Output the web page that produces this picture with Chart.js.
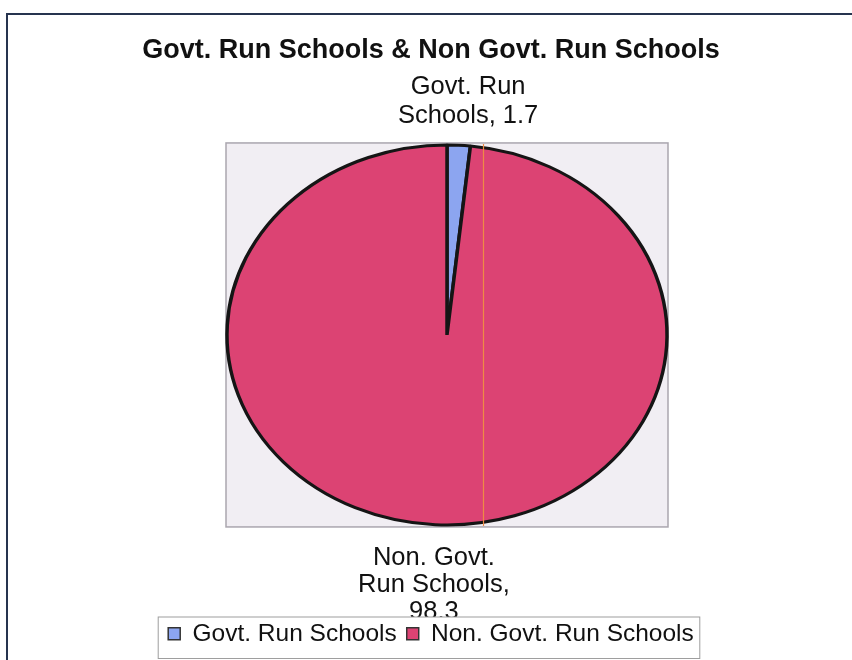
<!DOCTYPE html>
<html>
<head>
<meta charset="utf-8">
<script src="https://cdn.jsdelivr.net/npm/chart.js@4.4.1/dist/chart.umd.min.js"></script>
<style>
  html, body { margin: 0; padding: 0; background: #ffffff; }
  #wrap { width: 852px; height: 660px; position: relative; }
</style>
</head>
<body>
<div id="wrap"><canvas id="c"></canvas></div>
<script>
// ---- data ----
const chartTitle = 'Govt. Run Schools & Non Govt. Run Schools';
const categories = ['Govt. Run Schools', 'Non. Govt. Run Schools'];
const shares = [1.7, 98.3];
const sliceColors = ['#8CA5F0', '#DC4373'];

const FONT = '"Liberation Sans", Arial, sans-serif';
const STRETCH_X = 1.158; // the original pie is drawn slightly wider than tall

function wrapText(ctx, text, maxW) {
  const words = text.split(' ');
  const lines = [];
  let cur = '';
  words.forEach(w => {
    const t = cur ? cur + ' ' + w : w;
    if (cur && ctx.measureText(t).width > maxW) { lines.push(cur); cur = w; }
    else cur = t;
  });
  if (cur) lines.push(cur);
  return lines;
}

const framePlugin = {
  id: 'framePlugin',
  beforeDraw(chart) {
    const ctx = chart.ctx;
    ctx.save();
    ctx.fillStyle = '#ffffff';
    ctx.fillRect(0, 0, chart.width, chart.height);
    ctx.strokeStyle = '#26344f';
    ctx.lineWidth = 2;
    ctx.strokeRect(7, 14, chart.width + 20, chart.height + 20);
    ctx.restore();
  },
  beforeDatasetsDraw(chart) {
    const arc = chart.getDatasetMeta(0).data[0];
    if (!arc) return;
    const ctx = chart.ctx;
    ctx.save();
    ctx.fillStyle = '#F1EEF3';
    ctx.strokeStyle = '#AAA6AE';
    ctx.lineWidth = 1.5;
    ctx.fillRect(arc.x - 221, arc.y - 192, 442, 384);
    ctx.strokeRect(arc.x - 221, arc.y - 192, 442, 384);
    ctx.restore();
    // horizontal stretch of the pie drawing
    ctx.save();
    ctx.translate(arc.x, 0);
    ctx.scale(STRETCH_X, 1);
    ctx.translate(-arc.x, 0);
  },
  afterDatasetsDraw(chart) {
    const ctx = chart.ctx;
    ctx.restore();
    const meta = chart.getDatasetMeta(0);
    const a0 = meta.data[0];
    ctx.save();
    // thin orange rule seen in the original plot area
    ctx.strokeStyle = '#EE8A45';
    ctx.lineWidth = 1.2;
    ctx.beginPath();
    ctx.moveTo(a0.x + 36.5, a0.y - 191);
    ctx.lineTo(a0.x + 36.5, a0.y + 191);
    ctx.stroke();

    ctx.font = '25.5px ' + FONT;
    ctx.fillStyle = '#111111';
    ctx.textAlign = 'center';
    ctx.textBaseline = 'alphabetic';
    meta.data.forEach((arc, i) => {
      const mid = (arc.startAngle + arc.endAngle) / 2;
      const d = arc.outerRadius + 22;
      const ax = arc.x + Math.cos(mid) * d * STRETCH_X;
      const ay = arc.y + Math.sin(mid) * d;
      const lines = wrapText(ctx, categories[i] + ', ' + shares[i], 160);
      if (Math.sin(mid) < 0) {
        const lh = 29;
        lines.forEach((ln, k) => {
          ctx.fillText(ln, ax + 8, ay - (lines.length - 1 - k) * lh);
        });
      } else {
        const lh = 27;
        lines.forEach((ln, k) => {
          ctx.fillText(ln, ax, ay + 18 + k * lh);
        });
      }
    });
    ctx.restore();
  },
  afterDraw(chart) {
    const lg = chart.legend;
    if (!lg || !lg.legendHitBoxes || !lg.legendHitBoxes.length) return;
    const hb = lg.legendHitBoxes;
    const first = hb[0], last = hb[hb.length - 1];
    const x0 = first.left - 10;
    const x1 = last.left + last.width + 6;
    const y0 = lg.top + 5.5;
    const y1 = lg.bottom + 2.5;
    const ctx = chart.ctx;
    ctx.save();
    ctx.fillStyle = '#ffffff';
    ctx.fillRect(x0, y0, x1 - x0, y1 - y0);
    ctx.strokeStyle = '#9E9E9E';
    ctx.lineWidth = 1;
    ctx.strokeRect(x0, y0, x1 - x0, y1 - y0);
    ctx.restore();
    lg.draw();
  }
};

const ctx = document.getElementById('c').getContext('2d');
new Chart(ctx, {
  type: 'pie',
  data: {
    labels: categories,
    datasets: [{
      data: shares,
      backgroundColor: sliceColors,
      borderColor: '#151515',
      borderWidth: 3,
      radius: 190
    }]
  },
  options: {
    responsive: true,
    maintainAspectRatio: false,
    animation: false,
    layout: { padding: { top: 0, left: 10, right: 0, bottom: 4 } },
    plugins: {
      title: {
        display: true,
        text: chartTitle,
        color: '#111111',
        font: { family: FONT, size: 27, weight: 'bold', lineHeight: 1.2 },
        padding: { top: 34, bottom: -8 }
      },
      subtitle: {
        display: true,
        position: 'left',
        text: '',
        padding: 0,
        font: { size: 10, lineHeight: '32px' }
      },
      legend: {
        display: true,
        position: 'bottom',
        labels: {
          color: '#111111',
          font: { family: FONT, size: 24.5 },
          boxWidth: 12,
          boxHeight: 12,
          padding: 10,
          generateLabels(chart) {
            const base = Chart.overrides.pie.plugins.legend.labels.generateLabels(chart);
            return base.map(l => Object.assign(l, { lineWidth: 1.5, strokeStyle: '#333333' }));
          }
        }
      },
      tooltip: { enabled: false }
    }
  },
  plugins: [framePlugin]
});
</script>
</body>
</html>
